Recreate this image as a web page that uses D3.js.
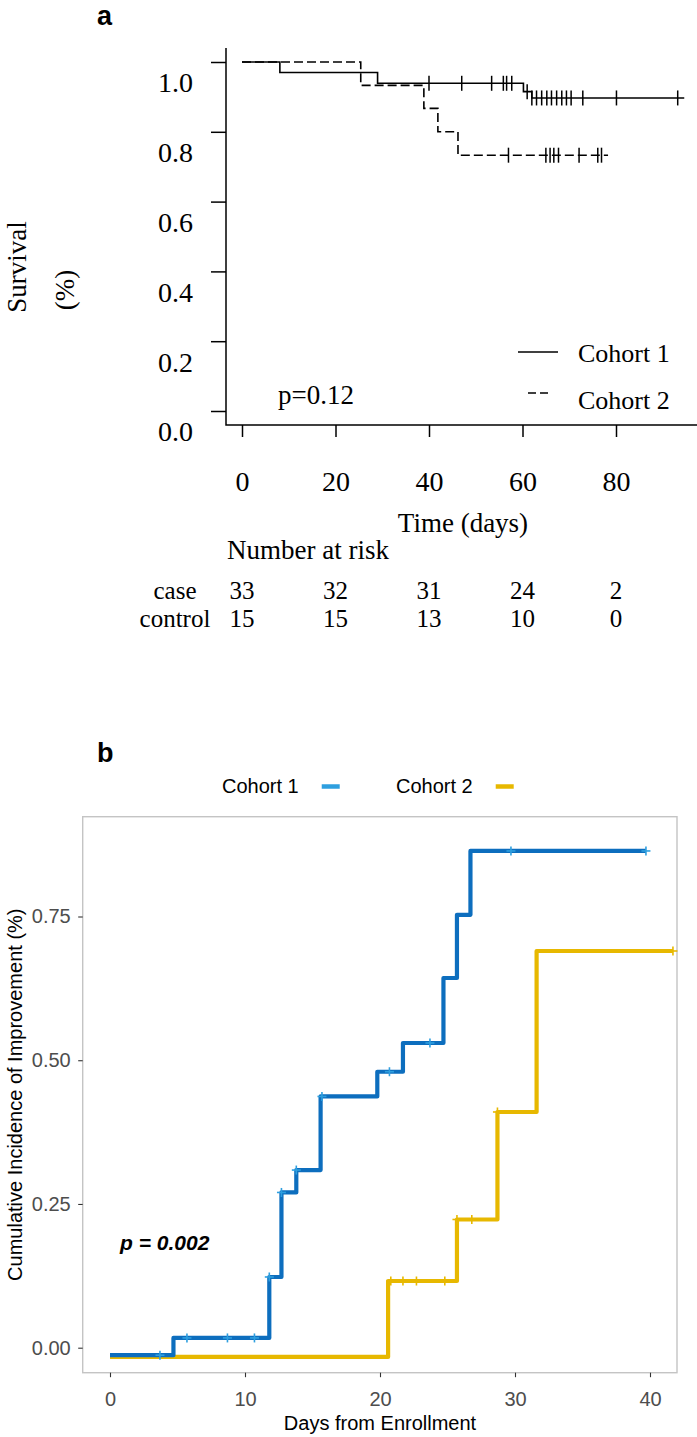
<!DOCTYPE html>
<html>
<head>
<meta charset="utf-8">
<script src="https://cdn.jsdelivr.net/npm/d3@7"></script>
<style>
  body { margin: 0; background: #fff; }
  svg { display: block; }
</style>
</head>
<body>
<svg id="chart" width="697" height="1437"></svg>
<script>
// ---- panel a: survival ----
const kmTicksX = [0, 20, 40, 60, 80];
const kmTicksY = [0, 0.2, 0.4, 0.6, 0.8, 1.0];
const c1Steps = [[0, 1], [8.1, 0.970], [29, 0.939], [60.2, 0.915], [62, 0.897]];
const c1End = 94.6;
const c1Cens = [40, 47, 53.4, 55.9, 56.6, 57.7, 61, 62, 63, 64.1, 65.2, 66.2, 67.3, 68.4, 69.4, 70.4, 72.9, 80.1, 93.2];
const c2Steps = [[0, 1], [25.4, 0.933], [38.9, 0.867], [41.9, 0.800], [46.2, 0.733]];
const c2End = 78.3;
const c2Cens = [57, 65, 65.9, 66.7, 67.7, 72.1, 76.1, 76.9];
const riskGroups = ["case", "control"];
const riskCase = [33, 32, 31, 24, 2];
const riskControl = [15, 15, 13, 10, 0];

// ---- panel b: cumulative incidence ----
const ciTicksX = [0, 10, 20, 30, 40];
const ciTicksY = [0, 0.25, 0.5, 0.75];
const b1Steps = [[0, -0.013], [4.7, 0.017], [11.8, 0.123], [12.7, 0.27], [13.8, 0.309], [15.6, 0.437],
  [19.8, 0.48], [21.7, 0.53], [24.7, 0.643], [25.7, 0.753], [26.7, 0.864]];
const b1End = 39.7;
const b1Cens = [3.7, 5.7, 8.7, 10.7, 11.8, 12.7, 13.8, 15.7, 20.7, 23.7, 29.7, 39.7];
const b2Steps = [[0, -0.016], [20.6, 0.116], [25.7, 0.223], [28.7, 0.41], [31.6, 0.69]];
const b2End = 41.7;
const b2Cens = [20.8, 21.7, 22.7, 24.8, 25.7, 26.8, 28.7, 41.7];
const groups = ["Cohort 1", "Cohort 2"];

const svg = d3.select("#chart");
const serif = "'Liberation Serif', 'Times New Roman', serif";
const sans = "'Liberation Sans', Arial, sans-serif";

// step helpers
function stepPoints(steps, end) {
  return steps.concat([[end, steps[steps.length - 1][1]]]);
}
function valueAt(steps, t) {
  let i = d3.bisectRight(steps.map(s => s[0]), t) - 1;
  return steps[Math.max(0, i)][1];
}

// ================= panel a =================
const xA = d3.scaleLinear().domain([0, 80]).range([242, 616]);
const yA = d3.scaleLinear().domain([0, 1]).range([411, 62]);
const gA = svg.append("g");

gA.append("text").attr("x", 97).attr("y", 25)
  .style("font-family", sans).style("font-weight", "bold").style("font-size", "27px").text("a");

// L-shaped frame
gA.append("path").attr("d", "M226,48V425H697")
  .attr("fill", "none").attr("stroke", "#000").attr("stroke-width", 1.5);

const axA = gA.append("g").attr("transform", "translate(0,425)")
  .call(d3.axisBottom(xA).tickValues(kmTicksX).tickSize(12).tickPadding(34).tickFormat(d3.format("d")));
const ayA = gA.append("g").attr("transform", "translate(226,0)")
  .call(d3.axisLeft(yA).tickValues(kmTicksY).tickSize(15).tickPadding(18).tickFormat(d3.format(".1f")));
[axA, ayA].forEach(g => {
  g.select(".domain").remove();
  g.selectAll(".tick line").attr("stroke", "#000").attr("stroke-width", 1.5);
  g.selectAll(".tick text").style("font-family", serif).style("font-size", "28px").attr("fill", "#000");
});
ayA.selectAll(".tick text").attr("y", 21);

const lineA = d3.line().x(d => xA(d[0])).y(d => yA(d[1])).curve(d3.curveStepAfter);
gA.append("path").datum(stepPoints(c2Steps, c2End)).attr("d", lineA)
  .attr("fill", "none").attr("stroke", "#000").attr("stroke-width", 1.6).attr("stroke-dasharray", "9,4");
gA.append("path").datum(stepPoints(c1Steps, c1End)).attr("d", lineA)
  .attr("fill", "none").attr("stroke", "#000").attr("stroke-width", 1.6);

[[c1Cens, c1Steps], [c2Cens, c2Steps]].forEach(([cens, steps]) => {
  gA.append("g").selectAll("line").data(cens).join("line")
    .attr("x1", d => xA(d)).attr("x2", d => xA(d))
    .attr("y1", d => yA(valueAt(steps, d)) - 7.5).attr("y2", d => yA(valueAt(steps, d)) + 7.5)
    .attr("stroke", "#000").attr("stroke-width", 1.5);
});

// legend a
gA.append("line").attr("x1", 518).attr("x2", 558).attr("y1", 352).attr("y2", 352)
  .attr("stroke", "#000").attr("stroke-width", 1.5);
gA.append("line").attr("x1", 528).attr("x2", 549).attr("y1", 393).attr("y2", 393)
  .attr("stroke", "#000").attr("stroke-width", 1.5).attr("stroke-dasharray", "8,4");
gA.selectAll(".leg").data(groups).join("text")
  .attr("x", 578).attr("y", (d, i) => i ? 409 : 362)
  .style("font-family", serif).style("font-size", "26px").text(d => d);
gA.append("text").attr("x", 278).attr("y", 404)
  .style("font-family", serif).style("font-size", "27px").text("p=0.12");

// axis titles a
gA.append("text").attr("transform", "translate(26,267) rotate(-90)").attr("text-anchor", "middle")
  .style("font-family", serif).style("font-size", "27px").text("Survival");
gA.append("text").attr("transform", "translate(74,290) rotate(-90)").attr("text-anchor", "middle")
  .style("font-family", serif).style("font-size", "27px").text("(%)");
gA.append("text").attr("x", 463).attr("y", 532).attr("text-anchor", "middle")
  .style("font-family", serif).style("font-size", "27px").text("Time (days)");

// risk table
gA.append("text").attr("x", 227).attr("y", 559)
  .style("font-family", serif).style("font-size", "27px").text("Number at risk");
[riskCase, riskControl].forEach((row, r) => {
  const y = r ? 627 : 599;
  gA.append("text").attr("x", 175).attr("y", y).attr("text-anchor", "middle")
    .style("font-family", serif).style("font-size", "25px").text(riskGroups[r]);
  gA.append("g").selectAll("text").data(row).join("text")
    .attr("x", (d, i) => xA(kmTicksX[i])).attr("y", y).attr("text-anchor", "middle")
    .style("font-family", serif).style("font-size", "25px").text(d => d);
});

// ================= panel b =================
const xB = d3.scaleLinear().domain([0, 40]).range([110, 650]);
const yB = d3.scaleLinear().domain([0, 0.75]).range([1347.7, 916.5]);
const colors = ["#0D6EBE", "#E7B800"];
const censColors = ["#2E9FDF", "#E7B800"];
const gB = svg.append("g");

gB.append("text").attr("x", 97).attr("y", 762)
  .style("font-family", sans).style("font-weight", "bold").style("font-size", "27px").text("b");

// legend b
const legX = [222, 396];
groups.forEach((g, i) => {
  const t = gB.append("text").attr("x", legX[i]).attr("y", 793)
    .style("font-family", sans).style("font-size", "20px").text(g);
  const w = t.node().getComputedTextLength();
  gB.append("line").attr("x1", legX[i] + w + 23).attr("x2", legX[i] + w + 41)
    .attr("y1", 786.5).attr("y2", 786.5).attr("stroke", censColors[i]).attr("stroke-width", 4.5);
});

gB.append("rect").attr("x", 82.7).attr("y", 816.7).attr("width", 594.3).attr("height", 556)
  .attr("fill", "none").attr("stroke", "#C4C4C4").attr("stroke-width", 1.4);

const axB = gB.append("g").attr("transform", "translate(0,1372.7)")
  .call(d3.axisBottom(xB).tickValues(ciTicksX).tickSize(4.5).tickPadding(15).tickFormat(d3.format("d")));
const ayB = gB.append("g").attr("transform", "translate(82.7,0)")
  .call(d3.axisLeft(yB).tickValues(ciTicksY).tickSize(4.5).tickPadding(7.5).tickFormat(d3.format(".2f")));
[axB, ayB].forEach(g => {
  g.select(".domain").remove();
  g.selectAll(".tick line").attr("stroke", "#333").attr("stroke-width", 1.1);
  g.selectAll(".tick text").style("font-family", sans).style("font-size", "20px").attr("fill", "#4D4D4D");
});

const lineB = d3.line().x(d => xB(d[0])).y(d => yB(d[1])).curve(d3.curveStepAfter);
[[b2Steps, b2End, b2Cens, 1], [b1Steps, b1End, b1Cens, 0]].forEach(([steps, end, cens, i]) => {
  gB.append("path").datum(stepPoints(steps, end)).attr("d", lineB)
    .attr("fill", "none").attr("stroke", colors[i]).attr("stroke-width", 4.2)
    .attr("stroke-linejoin", "round");
  const cg = gB.append("g").attr("stroke", censColors[i]).attr("stroke-width", 1.6);
  cens.forEach(t => {
    const cx = xB(t), cy = yB(valueAt(steps, t));
    cg.append("line").attr("x1", cx - 4.5).attr("x2", cx + 4.5).attr("y1", cy).attr("y2", cy);
    cg.append("line").attr("x1", cx).attr("x2", cx).attr("y1", cy - 4.5).attr("y2", cy + 4.5);
  });
});

gB.append("text").attr("x", 120).attr("y", 1250)
  .style("font-family", sans).style("font-weight", "bold").style("font-style", "italic")
  .style("font-size", "21px").text("p = 0.002");

gB.append("text").attr("x", 380).attr("y", 1430).attr("text-anchor", "middle")
  .style("font-family", sans).style("font-size", "20px").text("Days from Enrollment");
gB.append("text").attr("transform", "translate(22,1094.7) rotate(-90)").attr("text-anchor", "middle")
  .style("font-family", sans).style("font-size", "20px").text("Cumulative Incidence of Improvement (%)");
</script>
</body>
</html>
